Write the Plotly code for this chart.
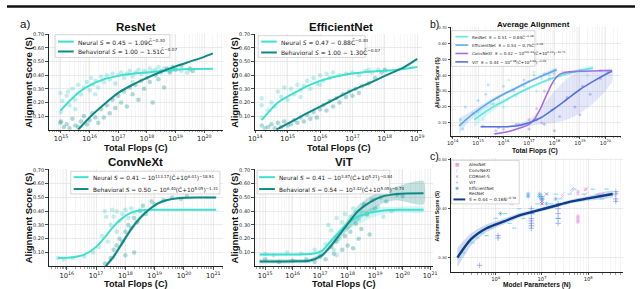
import plotly.graph_objects as go

W, H = 640, 289

# ======================= DATA =======================
# values on flop/parameter axes are given as log10 exponents
# ---- a) ResNet ----
resnet_neu_fit_x = [14.98, 15.3, 15.6, 16.0, 16.5, 17.0, 17.5, 18.0, 18.5, 19.0, 19.5, 20.3]
resnet_neu_fit_y = [0.14, 0.21, 0.27, 0.325, 0.37, 0.395, 0.41, 0.42, 0.43, 0.44, 0.445, 0.447]
resnet_beh_fit_x = [15.6, 16.0, 16.5, 17.0, 17.5, 18.0, 18.5, 19.0, 19.5, 20.0, 20.3]
resnet_beh_fit_y = [0.0, 0.09, 0.185, 0.27, 0.33, 0.38, 0.425, 0.465, 0.50, 0.535, 0.56]
resnet_neu_x = [14.98, 15.0, 15.05, 15.2, 15.25, 15.3, 15.4, 15.5, 15.6, 15.7, 15.8, 15.9, 16.0, 16.05, 16.1,
                16.2, 16.3, 16.4, 16.5, 16.6, 16.7, 16.8, 16.9, 17.0, 17.1, 17.2, 17.3, 17.4, 17.5, 17.6,
                17.7, 17.8, 17.9, 18.0, 18.1, 18.2, 18.3, 18.4, 18.5, 18.6, 18.7, 18.8, 18.9, 19.0, 19.2,
                19.4, 19.5, 17.5, 16.2, 15.5]
resnet_neu_y = [0.27, 0.13, 0.21, 0.25, 0.28, 0.18, 0.30, 0.22, 0.33, 0.26, 0.31, 0.35, 0.29, 0.38, 0.33,
                0.36, 0.31, 0.39, 0.35, 0.40, 0.37, 0.41, 0.34, 0.40, 0.42, 0.38, 0.41, 0.43, 0.39, 0.42,
                0.44, 0.41, 0.43, 0.42, 0.45, 0.43, 0.44, 0.46, 0.42, 0.45, 0.44, 0.43, 0.44, 0.45, 0.43,
                0.42, 0.44, 0.35, 0.26, 0.15]
resnet_beh_x = [14.98, 15.0, 15.1, 15.2, 15.3, 15.4, 15.5, 15.6, 15.7, 15.8, 15.9, 16.0, 16.1, 16.2, 16.3,
                16.4, 16.5, 16.6, 16.7, 16.8, 16.9, 17.0, 17.1, 17.2, 17.3, 17.4, 17.5, 17.6, 17.7, 17.8,
                17.9, 18.0, 18.1, 18.2, 18.3, 18.4, 18.5, 18.6, 18.7, 18.8, 18.9, 19.0, 19.2, 19.5, 19.6]
resnet_beh_y = [0.05, 0.06, 0.02, 0.04, 0.01, 0.08, 0.03, 0.02, 0.06, 0.10, 0.04, 0.07, 0.12, 0.09, 0.05,
                0.15, 0.09, 0.18, 0.12, 0.22, 0.16, 0.25, 0.20, 0.28, 0.17, 0.31, 0.26, 0.33, 0.22, 0.36,
                0.30, 0.38, 0.35, 0.20, 0.40, 0.37, 0.43, 0.31, 0.45, 0.42, 0.46, 0.44, 0.47, 0.45, 0.43]

# ---- a) EfficientNet ----
effnet_neu_fit_x = [14.2, 14.7, 15.28, 15.8, 16.3, 16.8, 17.3, 17.8, 18.4, 19.0]
effnet_neu_fit_y = [0.07, 0.20, 0.28, 0.34, 0.38, 0.405, 0.42, 0.43, 0.44, 0.46]
effnet_beh_fit_x = [14.65, 15.28, 15.8, 16.3, 17.0, 17.6, 18.0, 18.6, 19.0]
effnet_beh_fit_y = [0.0, 0.08, 0.145, 0.205, 0.29, 0.35, 0.395, 0.46, 0.52]
effnet_neu_x = [14.2, 14.2, 14.2, 14.4, 14.5, 14.6, 14.7, 14.8, 14.9, 15.0, 15.1, 15.2, 15.3, 15.4, 15.5,
                15.6, 15.7, 15.8, 15.9, 16.0, 16.1, 16.2, 16.3, 16.4, 16.6, 16.8, 17.0, 17.2, 17.4, 17.6,
                17.8, 18.0, 17.5, 15.4, 16.0]
effnet_neu_y = [0.23, 0.18, 0.09, 0.14, 0.20, 0.17, 0.28, 0.24, 0.31, 0.22, 0.30, 0.26, 0.33, 0.29, 0.32,
                0.36, 0.30, 0.38, 0.34, 0.40, 0.36, 0.41, 0.38, 0.42, 0.40, 0.41, 0.42, 0.40, 0.43, 0.42,
                0.44, 0.43, 0.44, 0.24, 0.33]
effnet_beh_x = [14.2, 14.3, 14.4, 14.5, 14.6, 14.7, 14.8, 14.9, 15.0, 15.1, 15.2, 15.3, 15.4, 15.5, 15.6,
                15.7, 15.8, 15.9, 16.0, 16.1, 16.2, 16.3, 16.4, 16.5, 16.6, 16.7, 16.8, 16.9, 17.0, 17.1,
                17.2, 17.3, 17.5, 17.7, 17.9, 18.0]
effnet_beh_y = [0.03, 0.01, 0.02, 0.04, 0.01, 0.05, 0.02, 0.06, 0.03, 0.04, 0.07, 0.05, 0.09, 0.06, 0.11,
                0.08, 0.13, 0.09, 0.15, 0.18, 0.14, 0.21, 0.17, 0.23, 0.20, 0.26, 0.24, 0.28, 0.25, 0.30,
                0.27, 0.32, 0.34, 0.38, 0.42, 0.44]

# ---- a) ConvNeXt ----
convnext_neu_fit_x = [15.7, 16.2, 16.6, 17.0, 17.3, 17.6, 17.9, 18.2, 18.5, 18.9, 21.1]
convnext_neu_fit_y = [0.06, 0.065, 0.085, 0.14, 0.21, 0.29, 0.35, 0.39, 0.405, 0.41, 0.41]
convnext_beh_fit_x = [17.33, 17.6, 17.9, 18.2, 18.5, 18.8, 19.1, 19.4, 19.8, 20.5, 21.1]
convnext_beh_fit_y = [0.0, 0.07, 0.17, 0.27, 0.35, 0.41, 0.455, 0.48, 0.495, 0.50, 0.50]
convnext_beh_band_lo = [0.0, 0.05, 0.15, 0.25, 0.33, 0.40, 0.445, 0.47, 0.49, 0.495, 0.495]
convnext_beh_band_hi = [0.02, 0.09, 0.19, 0.29, 0.37, 0.42, 0.465, 0.49, 0.50, 0.505, 0.505]
convnext_neu_x = [15.7, 15.9, 16.2, 16.6, 16.9, 17.1, 17.2, 17.3, 17.4, 17.5, 17.6, 17.7, 17.7, 17.8, 17.9,
                  18.0, 18.1, 18.2, 18.3, 18.5, 18.7, 17.35, 17.55]
convnext_neu_y = [0.06, 0.05, 0.06, 0.07, 0.10, 0.14, 0.22, 0.40, 0.18, 0.30, 0.36, 0.25, 0.40, 0.33, 0.38,
                  0.41, 0.35, 0.42, 0.39, 0.41, 0.40, 0.36, 0.41]
convnext_beh_x = [17.3, 17.5, 17.6, 17.7, 17.8, 17.9, 18.0, 18.0, 18.1, 18.2, 18.3, 18.4, 18.5, 18.6, 18.7,
                  18.9, 19.0, 19.3, 19.6, 19.9, 20.1, 18.3]
convnext_beh_y = [0.02, 0.06, 0.12, 0.15, 0.20, 0.18, 0.25, 0.08, 0.30, 0.28, 0.35, 0.32, 0.40, 0.44, 0.38,
                  0.47, 0.45, 0.48, 0.50, 0.49, 0.51, 0.10]

# ---- a) ViT ----
vit_neu_fit_x = [14.8, 15.5, 16.2, 16.7, 17.05, 17.4, 17.9, 18.37, 18.85, 19.3, 19.8, 20.76]
vit_neu_fit_y = [0.085, 0.085, 0.086, 0.09, 0.11, 0.185, 0.29, 0.36, 0.39, 0.405, 0.41, 0.41]
vit_neu_band_lo = [0.075, 0.075, 0.077, 0.08, 0.10, 0.17, 0.26, 0.30, 0.35, 0.38, 0.39, 0.39]
vit_neu_band_hi = [0.095, 0.095, 0.095, 0.10, 0.12, 0.20, 0.31, 0.39, 0.42, 0.43, 0.43, 0.43]
vit_beh_fit_x = [14.8, 15.5, 16.2, 16.6, 17.05, 17.4, 17.9, 18.37, 18.85, 19.3, 19.8, 20.76]
vit_beh_fit_y = [0.035, 0.035, 0.036, 0.04, 0.077, 0.15, 0.28, 0.40, 0.47, 0.51, 0.525, 0.53]
vit_beh_band_lo = [0.02, 0.02, 0.022, 0.025, 0.06, 0.13, 0.24, 0.33, 0.40, 0.46, 0.48, 0.45]
vit_beh_band_hi = [0.05, 0.05, 0.052, 0.055, 0.095, 0.17, 0.31, 0.44, 0.51, 0.55, 0.58, 0.62]
vit_neu_x = [15.0, 15.3, 15.8, 16.3, 16.8, 17.0, 17.3, 17.4, 17.5, 17.6, 17.7, 17.8, 17.9, 18.0, 18.1,
             18.2, 18.3, 18.4, 18.5, 18.6, 18.7, 18.9, 19.1, 19.3, 19.6, 17.2, 17.6]
vit_neu_y = [0.09, 0.08, 0.10, 0.09, 0.12, 0.10, 0.30, 0.26, 0.12, 0.35, 0.20, 0.32, 0.38, 0.28, 0.36,
             0.42, 0.39, 0.34, 0.40, 0.44, 0.37, 0.41, 0.43, 0.36, 0.40, 0.16, 0.08]
vit_beh_x = [15.0, 15.5, 16.0, 16.5, 16.8, 17.0, 17.2, 17.4, 17.5, 17.6, 17.8, 17.9, 18.0, 18.1, 18.2,
             18.3, 18.4, 18.5, 18.6, 18.7, 18.8, 18.9, 19.0, 19.2, 19.4, 19.8, 20.0]
vit_beh_y = [0.05, 0.03, 0.04, 0.05, 0.03, 0.07, 0.05, 0.14, 0.09, 0.18, 0.12, 0.22, 0.15, 0.25, 0.13,
             0.31, 0.20, 0.27, 0.45, 0.38, 0.23, 0.48, 0.42, 0.50, 0.47, 0.52, 0.51]

# ---- b) Average alignment ----
avg_resnet_fit_x = [14.85, 15.3, 15.7, 16.0, 16.5, 17.0, 17.5, 18.0, 18.6, 19.5]
avg_resnet_fit_y = [0.12, 0.17, 0.21, 0.235, 0.28, 0.32, 0.355, 0.385, 0.415, 0.445]
avg_resnet_band_lo = [0.07, 0.14, 0.19, 0.22, 0.27, 0.31, 0.345, 0.375, 0.405, 0.43]
avg_resnet_band_hi = [0.17, 0.20, 0.23, 0.25, 0.29, 0.33, 0.365, 0.395, 0.425, 0.46]
avg_effnet_fit_x = [14.26, 14.6, 15.0, 15.5, 16.0, 16.5, 17.0, 17.5, 18.08]
avg_effnet_fit_y = [0.08, 0.13, 0.18, 0.235, 0.28, 0.32, 0.36, 0.395, 0.435]
avg_effnet_band_lo = [0.03, 0.10, 0.16, 0.22, 0.27, 0.31, 0.35, 0.385, 0.42]
avg_effnet_band_hi = [0.13, 0.16, 0.20, 0.25, 0.29, 0.33, 0.37, 0.405, 0.45]
avg_convnext_fit_x = [15.64, 16.2, 16.7, 17.0, 17.2, 17.45, 17.7, 17.95, 18.2, 18.5, 19.0, 20.26]
avg_convnext_fit_y = [0.03, 0.045, 0.07, 0.09, 0.12, 0.19, 0.28, 0.36, 0.405, 0.42, 0.425, 0.43]
avg_vit_fit_x = [15.1, 16.0, 16.5, 17.0, 17.5, 18.0, 18.5, 19.0, 19.5, 20.0, 20.26]
avg_vit_fit_y = [0.075, 0.075, 0.08, 0.10, 0.135, 0.19, 0.25, 0.31, 0.36, 0.405, 0.425]
avg_vit_band_lo = [0.07, 0.07, 0.07, 0.08, 0.09, 0.10, 0.12, 0.16, 0.22, 0.30, 0.36]
avg_vit_band_hi = [0.08, 0.08, 0.09, 0.12, 0.20, 0.30, 0.38, 0.42, 0.43, 0.44, 0.44]
avg_resnet_x = [15.0, 15.2, 15.5, 15.8, 16.0, 16.3, 16.5, 16.8, 17.0, 17.3, 17.5, 17.8, 18.0, 18.3, 18.6,
                19.0, 19.3, 16.2, 17.2]
avg_resnet_y = [0.17, 0.12, 0.22, 0.25, 0.20, 0.30, 0.27, 0.33, 0.36, 0.30, 0.38, 0.40, 0.35, 0.42, 0.41,
                0.43, 0.40, 0.37, 0.42]
avg_effnet_x = [14.3, 14.5, 14.8, 15.0, 15.3, 15.6, 16.0, 16.4, 16.8, 17.2, 17.6, 18.0, 14.4, 15.4]
avg_effnet_y = [0.12, 0.20, 0.16, 0.24, 0.28, 0.22, 0.33, 0.30, 0.37, 0.40, 0.41, 0.43, 0.06, 0.34]
avg_convnext_x = [15.7, 16.0, 16.6, 17.0, 17.3, 17.6, 17.8, 18.0, 18.4, 19.0, 19.8, 17.5]
avg_convnext_y = [0.05, 0.06, 0.09, 0.12, 0.19, 0.30, 0.38, 0.41, 0.42, 0.43, 0.43, 0.10]
avg_vit_x = [15.2, 15.8, 16.5, 17.0, 17.3, 17.6, 17.9, 18.2, 18.5, 18.8, 19.1, 19.4, 19.8, 20.1, 18.0, 19.0]
avg_vit_y = [0.08, 0.07, 0.09, 0.06, 0.12, 0.09, 0.18, 0.14, 0.26, 0.20, 0.33, 0.28, 0.38, 0.42, 0.05, 0.15]

# ---- c) Model parameters ----
param_fit_x = [5.17, 5.47, 5.8, 6.18, 6.5, 6.89, 7.25, 7.6, 8.0, 8.53]
param_fit_y = [0.30, 0.338, 0.36, 0.374, 0.386, 0.396, 0.405, 0.414, 0.421, 0.43]
param_band_lo = [0.28, 0.325, 0.352, 0.368, 0.381, 0.392, 0.401, 0.41, 0.416, 0.424]
param_band_hi = [0.32, 0.35, 0.368, 0.380, 0.391, 0.40, 0.409, 0.418, 0.426, 0.437]
p_alexnet_x = [7.78, 7.78, 7.78, 7.78, 7.78, 7.78, 7.78, 6.35, 6.35, 7.95, 8.25]
p_alexnet_y = [0.372, 0.375, 0.378, 0.382, 0.385, 0.43, 0.435, 0.41, 0.415, 0.44, 0.43]
p_convnext_x = [7.45, 7.45, 7.65, 7.65, 7.95, 7.95, 8.3, 8.3, 8.6, 6.25]
p_convnext_y = [0.43, 0.425, 0.44, 0.435, 0.43, 0.44, 0.425, 0.43, 0.43, 0.42]
p_cornet_x = [7.0, 7.0, 7.1]
p_cornet_y = [0.41, 0.415, 0.43]
p_vit_x = [5.65, 6.05, 6.05, 6.77, 6.77, 6.77, 6.77, 6.77, 6.77, 6.77, 7.35, 7.35, 7.35, 7.35, 7.35,
           8.6, 8.6, 8.6, 8.6, 7.0, 7.0]
p_vit_y = [0.284, 0.345, 0.34, 0.36, 0.365, 0.37, 0.375, 0.38, 0.39, 0.40, 0.37, 0.38, 0.39, 0.40, 0.41,
           0.415, 0.42, 0.43, 0.435, 0.42, 0.425]
p_effnet_x = [6.7, 6.7, 6.95, 6.95, 7.0, 7.3, 7.1, 6.1]
p_effnet_y = [0.43, 0.425, 0.43, 0.425, 0.42, 0.42, 0.41, 0.39]
p_resnet_x = [5.2, 5.3, 5.5, 5.6, 5.7, 5.9, 6.0, 6.2, 6.3, 6.5, 6.6, 6.8, 6.9, 7.0, 7.1, 7.2, 7.3, 7.4,
              7.5, 7.6, 7.7, 7.8, 7.9, 8.0, 8.1, 8.2, 8.3, 8.4, 8.5, 6.4, 7.35, 5.8]
p_resnet_y = [0.30, 0.31, 0.33, 0.34, 0.35, 0.36, 0.38, 0.39, 0.37, 0.40, 0.38, 0.39, 0.41, 0.42, 0.40,
              0.41, 0.43, 0.42, 0.41, 0.43, 0.44, 0.42, 0.43, 0.42, 0.44, 0.43, 0.42, 0.44, 0.43, 0.36,
              0.38, 0.345]

# ---- ticks ----
y_ticks_main = [0.1, 0.2, 0.3, 0.4, 0.5, 0.6, 0.7]
y_ticks_c = [0.3, 0.4, 0.5]

# ======================= STYLE =======================
NEU = "#3fe0d0"
BEH = "#0e8a86"
NEU_PT = "rgba(80,210,200,0.35)"
BEH_PT = "rgba(30,150,145,0.35)"
C_RES = "#5fe6df"
C_EFF = "#5fa6ee"
C_CNX = "#a86be3"
C_VIT = "#5672e0"
TICKF = "DejaVu Sans"
TITF = "Liberation Sans"


def fx(p):
    return p / W


def fy(p):
    return 1 - p / H


def exp10(v):
    return [10 ** e for e in v]


fig = go.Figure()

panels = {
    # key: (x-domain px, y-domain px(top,bottom), log x range, y range, yticks, x tick size, y tick size)
    1: ((43, 220), (31, 128), [14.59, 20.65], [0.0, 0.705], y_ticks_main, 5.4, 5.0),
    2: ((253, 423), (31, 128), [14.0, 19.15], [0.0, 0.705], y_ticks_main, 5.4, 5.0),
    3: ((43, 220), (168, 266), [15.4, 21.33], [0.0, 0.705], y_ticks_main, 5.4, 5.0),
    4: ((253, 434), (168, 266), [14.64, 21.1], [0.0, 0.705], y_ticks_main, 5.4, 5.0),
    5: ((452, 626), (24, 134), [13.92, 20.62], [0.019, 0.706], y_ticks_main, 4.2, 3.8),
    6: ((452, 628), (157, 272), [5.02, 8.76], [0.27, 0.503], y_ticks_c, 4.2, 3.8),
}

layout_axes = {}
for k, (xd, yd, xr, yr, yt, fsx, fsy) in panels.items():
    sx = "" if k == 1 else str(k)
    small = k >= 5
    layout_axes["xaxis" + sx] = dict(
        domain=[fx(xd[0]), fx(xd[1])], anchor="y" + sx, type="log", range=xr,
        dtick=1, exponentformat="power", showexponent="all",
        showline=True, linecolor="#222", linewidth=1, mirror=False,
        ticks="outside", ticklen=2 if small else 2.5, tickwidth=0.8, tickcolor="#222",
        showgrid=True, gridcolor="#dedede", gridwidth=0.6, zeroline=False,
        minor=dict(dtick="D1", ticks="outside", ticklen=1.5, tickwidth=0.5, tickcolor="#444",
                   showgrid=True, gridcolor="#eeeeee", gridwidth=0.5),
        tickfont=dict(size=fsx, family=TICKF, color="#222"), fixedrange=True,
    )
    layout_axes["yaxis" + sx] = dict(
        domain=[fy(yd[1]), fy(yd[0])], anchor="x" + sx, range=yr,
        tickvals=yt, tickformat=".2f",
        showline=True, linecolor="#222", linewidth=1,
        ticks="outside", ticklen=2 if small else 3, tickwidth=0.8, tickcolor="#222",
        showgrid=True, gridcolor="#dedede", gridwidth=0.6, zeroline=False,
        tickfont=dict(size=fsy, family=TICKF, color="#222"), fixedrange=True,
    )


def ax(k):
    s = "" if k == 1 else str(k)
    return dict(xaxis="x" + s, yaxis="y" + s)


def pts(k, xs, ys, color, size=4.5, symbol="circle", line=None):
    mk = dict(color=color, size=size, symbol=symbol)
    if line:
        mk["line"] = line
    fig.add_trace(go.Scatter(x=exp10(xs), y=ys, mode="markers", marker=mk,
                             showlegend=False, hoverinfo="skip", **ax(k)))


def curve(k, xs, ys, color, width=2):
    fig.add_trace(go.Scatter(x=exp10(xs), y=ys, mode="lines",
                             line=dict(color=color, width=width, shape="spline", smoothing=0.8),
                             showlegend=False, hoverinfo="skip", **ax(k)))


def band(k, xs, lo, hi, fill):
    fig.add_trace(go.Scatter(x=exp10(xs) + exp10(xs[::-1]), y=list(lo) + list(hi[::-1]),
                             mode="lines", fill="toself", fillcolor=fill,
                             line=dict(width=0, shape="spline", smoothing=0.6),
                             showlegend=False, hoverinfo="skip", **ax(k)))


# ---- panel 1: ResNet
pts(1, resnet_neu_x, resnet_neu_y, NEU_PT)
pts(1, resnet_beh_x, resnet_beh_y, BEH_PT)
curve(1, resnet_neu_fit_x, resnet_neu_fit_y, NEU)
curve(1, resnet_beh_fit_x, resnet_beh_fit_y, BEH)
# ---- panel 2: EfficientNet
pts(2, effnet_neu_x, effnet_neu_y, NEU_PT)
pts(2, effnet_beh_x, effnet_beh_y, BEH_PT)
curve(2, effnet_neu_fit_x, effnet_neu_fit_y, NEU)
curve(2, effnet_beh_fit_x, effnet_beh_fit_y, BEH)
# ---- panel 3: ConvNeXt
band(3, convnext_beh_fit_x, convnext_beh_band_lo, convnext_beh_band_hi, "rgba(20,140,135,0.25)")
pts(3, convnext_neu_x, convnext_neu_y, NEU_PT)
pts(3, convnext_beh_x, convnext_beh_y, BEH_PT)
curve(3, convnext_neu_fit_x, convnext_neu_fit_y, NEU)
curve(3, convnext_beh_fit_x, convnext_beh_fit_y, BEH)
# ---- panel 4: ViT
band(4, vit_neu_fit_x, vit_neu_band_lo, vit_neu_band_hi, "rgba(64,224,208,0.22)")
band(4, vit_beh_fit_x, vit_beh_band_lo, vit_beh_band_hi, "rgba(20,140,135,0.25)")
pts(4, vit_neu_x, vit_neu_y, NEU_PT)
pts(4, vit_beh_x, vit_beh_y, BEH_PT)
curve(4, vit_neu_fit_x, vit_neu_fit_y, NEU)
curve(4, vit_beh_fit_x, vit_beh_fit_y, BEH)
# ---- panel 5: average
band(5, avg_vit_fit_x, avg_vit_band_lo, avg_vit_band_hi, "rgba(110,120,225,0.18)")
band(5, avg_resnet_fit_x, avg_resnet_band_lo, avg_resnet_band_hi, "rgba(95,230,223,0.25)")
band(5, avg_effnet_fit_x, avg_effnet_band_lo, avg_effnet_band_hi, "rgba(95,166,238,0.22)")
pts(5, avg_resnet_x, avg_resnet_y, "rgba(95,230,223,0.35)", size=3)
pts(5, avg_effnet_x, avg_effnet_y, "rgba(95,166,238,0.35)", size=3)
pts(5, avg_convnext_x, avg_convnext_y, "rgba(168,107,227,0.35)", size=3)
pts(5, avg_vit_x, avg_vit_y, "rgba(86,114,224,0.35)", size=3)
curve(5, avg_resnet_fit_x, avg_resnet_fit_y, C_RES, 1.6)
curve(5, avg_effnet_fit_x, avg_effnet_fit_y, C_EFF, 1.6)
curve(5, avg_convnext_fit_x, avg_convnext_fit_y, C_CNX, 1.6)
curve(5, avg_vit_fit_x, avg_vit_fit_y, C_VIT, 1.6)
# ---- panel 6: parameters
band(6, param_fit_x, param_band_lo, param_band_hi, "rgba(120,150,200,0.35)")
pts(6, p_resnet_x, p_resnet_y, "rgba(80,220,235,0.6)", size=3, symbol="line-ew",
    line=dict(color="rgba(80,220,235,0.7)", width=1.2))
pts(6, p_alexnet_x, p_alexnet_y, "rgba(240,150,230,0.55)", size=3, symbol="square")
pts(6, p_convnext_x, p_convnext_y, "rgba(230,140,225,0.6)", size=3.5, symbol="line-ne",
    line=dict(color="rgba(230,140,225,0.7)", width=1))
pts(6, p_cornet_x, p_cornet_y, "rgba(150,100,225,0.7)", size=3, symbol="x-thin",
    line=dict(color="rgba(150,100,225,0.8)", width=1))
pts(6, p_vit_x, p_vit_y, "rgba(100,130,240,0.55)", size=4, symbol="cross-thin",
    line=dict(color="rgba(100,130,240,0.55)", width=1))
pts(6, p_effnet_x, p_effnet_y, "rgba(80,160,240,0.6)", size=4, symbol="asterisk",
    line=dict(color="rgba(80,160,240,0.6)", width=0.8))
curve(6, param_fit_x, param_fit_y, "#0c3c8c", 2.4)

# ======================= ANNOTATIONS / LEGENDS =======================
ann = []
shapes = []


def text(x, y, s, size, bold=False, family=TITF, angle=0, anchor="center", color="#111"):
    ann.append(dict(x=fx(x), y=fy(y), xref="paper", yref="paper", text=("<b>%s</b>" % s) if bold else s,
                    showarrow=False, textangle=angle, xanchor=anchor, yanchor="middle",
                    font=dict(size=size, family=family, color=color)))


# header rule
shapes.append(dict(type="line", xref="paper", yref="paper", x0=0, x1=1, y0=fy(3.5), y1=fy(3.5),
                   line=dict(color="#111", width=2.5)))

# panel labels and titles
text(18, 21, "a)", 11.5, family=TITF)
text(436, 21, "b)", 10.5, family=TITF)
text(436, 155, "c)", 10.5, family=TITF)
text(131, 24, "ResNet", 11.5, bold=True)
text(340, 24, "EfficientNet", 11.5, bold=True)
text(131, 161, "ConvNeXt", 11.5, bold=True)
text(343, 161, "ViT", 11.5, bold=True)
text(537, 22, "Average Alignment", 8, bold=True)

# axis titles
for (xx, yy) in [(22, 80), (232, 80), (22, 217), (232, 217)]:
    text(xx, yy, "Alignment Score (S)", 9.5, bold=True, angle=-90)
for (xx, yy) in [(131, 146.5), (338, 146.5), (131, 284.3), (343, 284.3)]:
    text(xx, yy, "Total Flops (C)", 9.2, bold=True)
text(438, 80, "Alignment Score (S)", 5.3, bold=True, angle=-90)
text(438, 215, "Alignment Score (S)", 5.3, bold=True, angle=-90)
text(538, 149.5, "Total Flops (C)", 6.6, bold=True)
text(540, 285, "Model Parameters (N)", 6.6, bold=True)


def legend_box(x0, y0, x1, y1):
    shapes.append(dict(type="rect", xref="paper", yref="paper", x0=fx(x0), x1=fx(x1), y0=fy(y1), y1=fy(y0),
                       fillcolor="rgba(255,255,255,0.85)", line=dict(color="#cccccc", width=0.8),
                       layer="above"))


def legend_line(x0, x1, y, color, width=2):
    shapes.append(dict(type="line", xref="paper", yref="paper", x0=fx(x0), x1=fx(x1), y0=fy(y), y1=fy(y),
                       line=dict(color=color, width=width), layer="above"))


CT = "C\u0303"
legend_specs = [
    # box, sample line x0/x1, text x, font size, entries: (y, color, label)
    ((49, 32, 166, 55), 52, 68, 70, 6.0, [
        (39, NEU, "Neural <i>S</i> = 0.45 \u2212 1.09%s<sup>\u22120.30</sup>" % CT),
        (49, BEH, "Behavioral <i>S</i> = 1.00 \u2212 1.51%s<sup>\u22120.07</sup>" % CT)]),
    ((256, 33, 365, 55), 259, 275, 277, 6.0, [
        (39, NEU, "Neural <i>S</i> = 0.47 \u2212 0.88%s<sup>\u22120.30</sup>" % CT),
        (50, BEH, "Behavioral <i>S</i> = 1.00 \u2212 1.30%s<sup>\u22120.07</sup>" % CT)]),
    ((65, 170, 217, 193), 68, 83, 86, 5.8, [
        (176, NEU, "Neural <i>S</i> = 0.41 \u2212 10<sup>113.17</sup>(%s+10<sup>6.01</sup>)<sup>\u221218.91</sup>" % CT),
        (188, BEH, "Behavioral <i>S</i> = 0.50 \u2212 10<sup>6.40</sup>(%s+10<sup>5.05</sup>)<sup>\u22121.31</sup>" % CT)]),
    ((255, 169, 390, 193), 257, 273, 275, 5.8, [
        (176, NEU, "Neural <i>S</i> = 0.41 \u2212 10<sup>3.87</sup>(%s+10<sup>5.21</sup>)<sup>\u22120.84</sup>" % CT),
        (188, BEH, "Behavioral <i>S</i> = 0.54 \u2212 10<sup>3.42</sup>(%s+10<sup>5.05</sup>)<sup>\u22120.74</sup>" % CT)]),
    ((453, 28, 538, 64), 457, 470, 472, 4.1, [
        (34, C_RES, "ResNet  <i>S</i> = 0.51 \u2212 0.84%s<sup>\u22120.18</sup>" % CT),
        (42.5, C_EFF, "EfficientNet  <i>S</i> = 0.53 \u2212 0.75%s<sup>\u22120.18</sup>" % CT),
        (51, C_CNX, "ConvNeXt  <i>S</i> = 0.42 \u2212 10<sup>100.49</sup>(%s+10<sup>6.04</sup>)<sup>\u221216.71</sup>" % CT),
        (59.5, C_VIT, "ViT  <i>S</i> = 0.44 \u2212 10<sup>2.98</sup>(%s+10<sup>4.94</sup>)<sup>\u22120.69</sup>" % CT)]),
]
for box, lx0, lx1, tx, fs, entries in legend_specs:
    legend_box(*box)
    for (yy, col, lab) in entries:
        legend_line(lx0, lx1, yy, col, 2 if fs > 5 else 1.6)
        text(tx, yy, lab, fs, family=TICKF, anchor="left", color="#222")

# legend c)
legend_box(453, 159, 522, 203)
c_entries = [
    (163.5, "\u25A0", "#f29ae6", "AlexNet"),
    (169.5, "\u2215", "#e48de0", "ConvNeXt"),
    (175.5, "\u00D7", "#9a66e0", "CORnet-S"),
    (181.5, "+", "#6a86f0", "ViT"),
    (187.5, "\u2731", "#5aa0f0", "EfficientNet"),
    (193, "\u2013", "#50dceb", "ResNet"),
]
for (yy, sym, col, lab) in c_entries:
    text(459, yy, sym, 4.6, family=TICKF, color=col)
    text(469, yy, lab, 4.3, family=TICKF, anchor="left", color="#222")
legend_line(455, 467, 198.5, "#0c3c8c", 2)
text(469, 198.5, "<i>S</i> = 0.44 \u2212 0.16\u00D1<sup>\u22120.39</sup>", 4.3, family=TICKF, anchor="left",
     color="#222")

fig.update_layout(
    width=W, height=H, autosize=False,
    margin=dict(l=0, r=0, t=0, b=0),
    paper_bgcolor="white", plot_bgcolor="white",
    showlegend=False,
    annotations=ann, shapes=shapes,
    **layout_axes,
)

fig.write_html("out.html", config={"displayModeBar": False, "staticPlot": True},
               post_script="document.body.style.margin='0';document.body.style.padding='0';")
